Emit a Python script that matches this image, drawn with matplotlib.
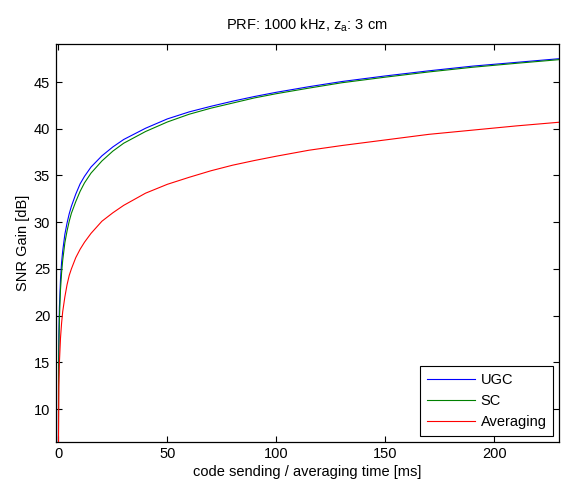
#Plot SNR gain versus code sending / averaging time

import numpy as np
import matplotlib.pyplot as plt

plt.rcParams['font.family'] = ['Liberation Sans', 'DejaVu Sans']
plt.rcParams['mathtext.default'] = 'regular'

#time values [ms]
t = [0, 0.1, 0.25, 0.5, 1, 1.5, 2, 3, 4, 5, 6, 8, 10, 12, 15, 20, 25, 30, 40,
     50, 60, 70, 80, 90, 100, 115, 130, 150, 170, 190, 210, 230]

#SNR gain of each method [dB]
ugc = [0, 13.9, 17.9, 20.9, 23.9, 25.7, 26.9, 28.7, 29.9, 30.9, 31.7, 33.0,
       34.1, 34.9, 35.9, 37.1, 38.05, 38.85, 40.05, 41.05, 41.8, 42.4, 42.95,
       43.45, 43.9, 44.5, 45.05, 45.65, 46.2, 46.7, 47.1, 47.5]
sc = [0, 12.5, 16.5, 19.7, 22.8, 24.6, 25.9, 27.8, 29.05, 30.1, 30.95, 32.2,
      33.3, 34.2, 35.25, 36.55, 37.6, 38.45, 39.7, 40.72, 41.55, 42.2, 42.75,
      43.3, 43.75, 44.35, 44.92, 45.52, 46.08, 46.58, 47.0, 47.4]
avg = [0, 7.1, 12.5, 15.0, 17.6, 19.2, 20.4, 22.0, 23.3, 24.3, 25.0, 26.2,
       27.1, 27.85, 28.8, 30.1, 31.0, 31.8, 33.1, 34.05, 34.8, 35.5, 36.1,
       36.6, 37.06, 37.7, 38.2, 38.8, 39.4, 39.85, 40.3, 40.7]

fs = 10.5

fig = plt.figure(figsize=(5.61, 4.82), dpi=100)
ax = fig.add_axes([0.0993, 0.0836, 0.8971, 0.8257])

ax.plot(t, ugc, color=(0, 0, 1), lw=0.8, label='UGC')
ax.plot(t, sc, color=(0, 0.5, 0), lw=0.8, label='SC')
ax.plot(t, avg, color=(1, 0, 0), lw=0.8, label='Averaging')

ax.set_xlim(-1.2, 229.7)
ax.set_ylim(6.5, 49.1)
ax.set_xticks([0, 50, 100, 150, 200])
ax.set_yticks([10, 15, 20, 25, 30, 35, 40, 45])
ax.tick_params(direction='in', top=True, right=True, length=4, width=0.8,
               labelsize=fs, pad=4)
for s in ax.spines.values():
    s.set_linewidth(0.9)

ax.set_xlabel("code sending / averaging time [ms]", fontsize=fs, labelpad=3)
ax.set_ylabel("SNR Gain [dB]", fontsize=fs, labelpad=3)
ax.set_title("PRF: 1000 kHz, z$_a$: 3 cm", fontsize=fs, pad=10)

leg = ax.legend(loc='lower right', fontsize=fs, fancybox=False, framealpha=1,
                borderaxespad=0.4, handlelength=3.3, labelspacing=0.5,
                handletextpad=0.4, borderpad=0.45)
leg.get_frame().set_edgecolor('black')
leg.get_frame().set_linewidth(0.8)

fig.savefig("out.png", dpi=100)
